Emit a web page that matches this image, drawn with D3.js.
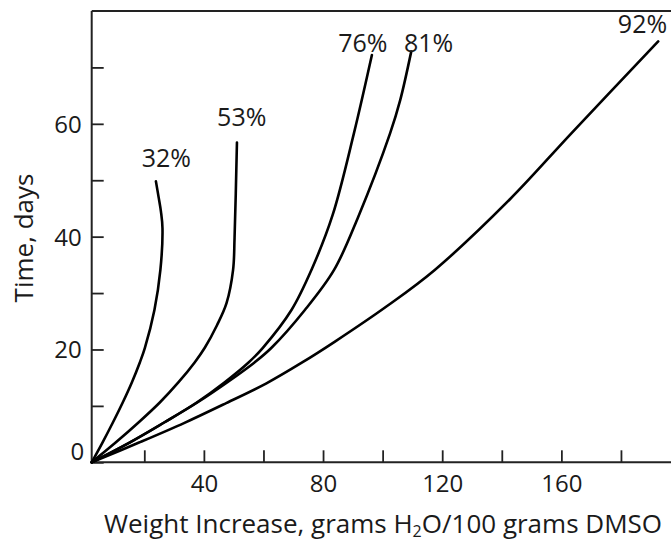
<!DOCTYPE html>
<html>
<head>
<meta charset="utf-8">
<script src="https://cdn.jsdelivr.net/npm/d3@7"></script>
<style>
  html, body { margin: 0; padding: 0; background: #fff; }
  svg { display: block; }
  text { font-family: "Open Sans", "DejaVu Sans", sans-serif; fill: #1a1a1a; }
</style>
</head>
<body>
<svg id="chart" width="671" height="541"></svg>
<script>
// Water uptake of DMSO solutions over time, one curve per DMSO concentration.
// Each curve: [weight increase (g H2O / 100 g DMSO), time (days)]
const curve32 = [[0,0],[4.1,3.5],[8.1,7.1],[11.8,10.6],[15.3,14.2],[18.3,17.7],[20.2,20.3],[23.4,27],[25.4,34.1],[26.1,41.5],[25.6,44.4],[24.8,47],[23.9,49.8]];
const curve53 = [[0,0],[9.1,3.5],[17.9,7.1],[25.2,10.6],[31.5,14.2],[36.9,17.7],[40.3,20.3],[44.4,24.3],[47.6,28.2],[49.8,34.1],[50.3,39.8],[51.1,56.7]];
const curve76 = [[0,0],[14.4,3.5],[26.8,7.1],[37.6,10.6],[47,14.2],[55,17.7],[59.8,20.3],[69.4,27],[76.1,34.1],[83.2,43.8],[90.4,58.4],[96.4,72.2]];
const curve81 = [[0,0],[14.4,3.5],[26.8,7.1],[37.8,10.6],[47.9,14.2],[57,17.7],[62.7,20.3],[73.9,27],[83.7,34.1],[91.8,43.5],[102.5,58.3],[105.9,64.2],[109.6,72.8]];
const curve92 = [[0,0],[18,3.5],[33.5,7],[47.5,10.5],[61,14],[73,17.7],[84,21.4],[101.5,27.7],[117.5,34.1],[142.5,46.5],[163.5,58.4],[192.5,74.6]];

const curveNames = ["32%", "53%", "76%", "81%", "92%"];
const curves = [curve32, curve53, curve76, curve81, curve92];

// Axis ticks
const xTicks = [20, 40, 60, 80, 100, 120, 140, 160, 180];
const xTickLabels = [40, 80, 120, 160];
const yTicks = [0, 10, 20, 30, 40, 50, 60, 70];
const yTickLabels = [0, 20, 40, 60];

// Label placement relative to each curve's end point (pixels)
const labelOffsets = [[10.5, -14.7], [4.8, -16], [-9, -3.3], [17.3, 0], [-15.7, -8.4]];

const svg = d3.select("#chart");
const W = 671, H = 541;
const plotLeft = 91.7, plotTop = 11, plotBottom = 462.3;

// The horizontal axis as drawn has a slightly shorter first interval
const x = d3.scaleLinear().domain([0, 20, 196.8]).range([plotLeft, 144.3, W]);
const y = d3.scaleLinear().domain([0, 80]).range([plotBottom, plotTop]);

const axisColor = "#222";
const tickFs = 24, labelFs = 25, titleFs = 26;

// Frame: top border
svg.append("line")
  .attr("x1", plotLeft).attr("x2", W)
  .attr("y1", plotTop).attr("y2", plotTop)
  .attr("stroke", axisColor).attr("stroke-width", 2);

// Bottom axis with ticks pointing into the plot
const gx = svg.append("g")
  .attr("transform", `translate(0,${plotBottom})`)
  .call(d3.axisBottom(x).tickValues(xTicks).tickSizeInner(-12).tickSizeOuter(0)
    .tickFormat(d => xTickLabels.includes(d) ? d : ""));
gx.select(".domain").attr("stroke", axisColor).attr("stroke-width", 2)
  .attr("d", `M${plotLeft},0H${W}`);
gx.selectAll(".tick line").attr("stroke", axisColor).attr("stroke-width", 1.8);
gx.selectAll(".tick text")
  .attr("y", 29.4).attr("dy", null)
  .style("font-size", tickFs + "px").attr("font-family", null).attr("fill", "#1a1a1a");

// Left axis with ticks pointing into the plot
const gy = svg.append("g")
  .attr("transform", `translate(${plotLeft},0)`)
  .call(d3.axisLeft(y).tickValues(yTicks).tickSizeInner(-12).tickSizeOuter(0).tickPadding(10)
    .tickFormat(d => yTickLabels.includes(d) ? d : ""));
gy.select(".domain").attr("stroke", axisColor).attr("stroke-width", 2)
  .attr("d", `M0,${plotTop}V${plotBottom}`);
gy.selectAll(".tick line").attr("stroke", axisColor).attr("stroke-width", 1.8);
gy.selectAll(".tick text")
  .style("font-size", tickFs + "px").attr("font-family", null).attr("fill", "#1a1a1a")
  .attr("dy", d => d === 0 ? "-0.1em" : "0.35em")
  .attr("x", d => d === 0 ? -7.5 : -10);

// Curves
const line = d3.line()
  .x(d => x(d[0]))
  .y(d => y(d[1]))
  .curve(d3.curveCatmullRom.alpha(0.5));

svg.append("g").selectAll("path")
  .data(curves)
  .join("path")
  .attr("d", line)
  .attr("fill", "none")
  .attr("stroke", "#000")
  .attr("stroke-width", 2.6)
  .attr("stroke-linecap", "round")
  .attr("stroke-linejoin", "round");

// Curve labels at the upper end of each curve
svg.append("g").selectAll("text")
  .data(curves)
  .join("text")
  .attr("x", (d, i) => x(d[d.length - 1][0]) + labelOffsets[i][0])
  .attr("y", (d, i) => y(d[d.length - 1][1]) + labelOffsets[i][1])
  .attr("text-anchor", "middle")
  .style("font-size", labelFs + "px")
  .text((d, i) => curveNames[i]);

// Axis titles
const xTitle = svg.append("text")
  .attr("x", 383).attr("y", 533)
  .attr("text-anchor", "middle")
  .style("font-size", titleFs + "px");
xTitle.append("tspan").text("Weight Increase, grams H");
xTitle.append("tspan").attr("dy", 4).style("font-size", "16px").text("2");
xTitle.append("tspan").attr("dy", -4).text("O/100 grams DMSO");

svg.append("text")
  .attr("transform", "translate(33,238) rotate(-90)")
  .attr("text-anchor", "middle")
  .style("font-size", titleFs + "px")
  .text("Time, days");
</script>
</body>
</html>
